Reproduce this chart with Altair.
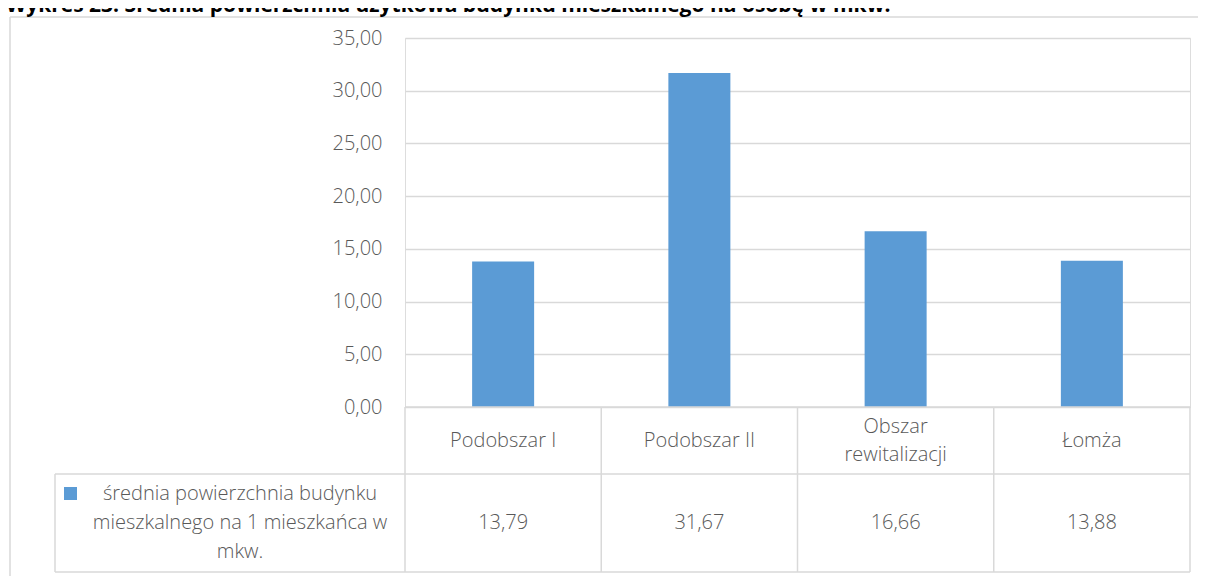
import altair as alt
import pandas as pd

# ---- data ----
title_text = "Wykres 23. Średnia powierzchnia użytkowa budynku mieszkalnego na osobę w mkw."
categories = ["Podobszar I", "Podobszar II", "Obszar\nrewitalizacji", "Łomża"]
values = [13.79, 31.67, 16.66, 13.88]
series_name = "średnia powierzchnia budynku\nmieszkalnego na 1 mieszkańca w\nmkw."
y_ticks = [0, 5, 10, 15, 20, 25, 30, 35]

# ---- styling ----
FONT = "Open Sans"
TXT = "#595959"
GRID = "#d9d9d9"
BAR = "#5b9bd5"
FS = 20
LH = 28

W, H = 785, 369  # plot area

df = pd.DataFrame({
    "cat": categories,
    "value": values,
    "pos": [i + 0.5 for i in range(len(categories))],
})
bounds = pd.DataFrame({"b": list(range(len(categories) + 1))})
one = pd.DataFrame({"a": [0]})

xscale = alt.Scale(domain=[0, len(categories)], nice=False, zero=False, padding=0)
yscale = alt.Scale(domain=[0, 35], nice=False)

label_expr = "replace(format(datum.value, '.2f'), '.', ',')"

bars = alt.Chart(df).mark_bar(size=62, color=BAR).encode(
    x=alt.X("pos:Q", scale=xscale, axis=None),
    y=alt.Y("value:Q", scale=yscale,
            axis=alt.Axis(values=y_ticks, labelExpr=label_expr, grid=True,
                          gridColor=GRID, gridWidth=1.5, domain=False, ticks=False,
                          labelPadding=23, labelFontSize=FS, labelFont=FONT,
                          labelFontWeight=300, labelColor=TXT, title=None)),
)

# table: vertical lines at category boundaries
vlines = alt.Chart(bounds).mark_rule(color=GRID, strokeWidth=1.5).encode(
    x=alt.X("b:Q", scale=xscale),
    y=alt.value(H), y2=alt.value(534),
)

def hline(x1, x2, y):
    return alt.Chart(one).mark_rule(color=GRID, strokeWidth=1.5).encode(
        x=alt.value(x1), x2=alt.value(x2), y=alt.value(y))

def vline(x, y1, y2):
    return alt.Chart(one).mark_rule(color=GRID, strokeWidth=1.5).encode(
        x=alt.value(x), y=alt.value(y1), y2=alt.value(y2))

table_lines = [
    hline(0, W, H),
    hline(-350, W, 436),
    hline(-350, W, 534),
    vline(-350, 436, 534),
    # outer frame
    hline(-395, 820, -21),
    vline(-395, -21, 560),
]

# multi-line labels: shift up by half the extra lines so the block is centred
cat_text = alt.Chart(df).transform_calculate(
    lab="split(datum.cat, '\\n')",
    off=f"-(length(split(datum.cat, '\\n')) - 1) * {LH} / 2",
).mark_text(font=FONT, fontSize=FS, fontWeight=300, color=TXT,
            align="center", baseline="middle", lineHeight=LH).encode(
    x=alt.X("pos:Q", scale=xscale),
    y=alt.value(403),
    yOffset=alt.YOffset("off:Q", scale=None),
    text="lab:N",
)

val_text = alt.Chart(df).transform_calculate(
    lab="replace(format(datum.value, '.2f'), '.', ',')"
).mark_text(font=FONT, fontSize=FS, fontWeight=300, color=TXT,
            align="center", baseline="middle").encode(
    x=alt.X("pos:Q", scale=xscale),
    y=alt.value(485),
    text="lab:N",
)

legend_sq = alt.Chart(one).mark_square(size=169, color=BAR, opacity=1).encode(
    x=alt.value(-334.5), y=alt.value(455.5))

legend_txt = alt.Chart(pd.DataFrame({"s": [series_name]})).transform_calculate(
    lab="split(datum.s, '\\n')",
    off="-(length(split(datum.s, '\\n')) - 1) * 29 / 2",
).mark_text(font=FONT, fontSize=FS, fontWeight=300, color=TXT,
            align="center", baseline="middle", lineHeight=29).encode(
    x=alt.value(-165), y=alt.value(485),
    yOffset=alt.YOffset("off:Q", scale=None),
    text="lab:N")

title = alt.Chart(pd.DataFrame({"t": [title_text]})).mark_text(
    font=FONT, fontSize=21, fontWeight="bold", color="#000000",
    align="left", baseline="alphabetic").encode(
    x=alt.value(-399), y=alt.value(-26), text="t:N")

chart = alt.layer(
    bars, vlines, *table_lines, cat_text, val_text, legend_sq, legend_txt, title
).properties(
    width=W, height=H,
    autosize=alt.AutoSizeParams(type="none"),
    padding={"left": 397, "top": 30, "right": 8, "bottom": 169},
).configure_view(stroke=None).configure(font=FONT)

chart.save("out.html", embed_options={"renderer": "svg", "actions": False})
